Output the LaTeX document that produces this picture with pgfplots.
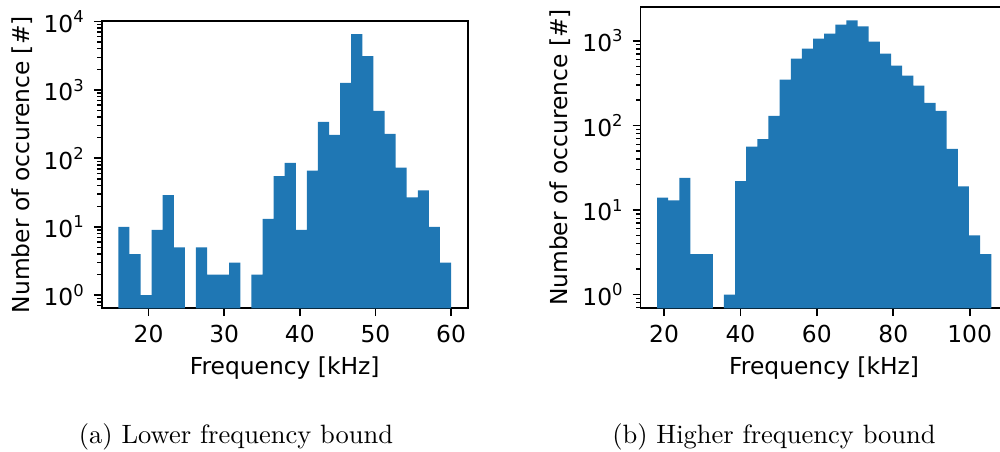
\documentclass[border=0pt]{standalone}
\usepackage{fontspec}
\usepackage{pgfplots}
\pgfplotsset{compat=1.18}
\usetikzlibrary{calc}
\newfontfamily\dv{DejaVu Sans}
\definecolor{mplblue}{HTML}{1F77B4}
\pgfplotsset{
  myhistax/.style={
    scale only axis, anchor=south west,
    log basis y=10, log origin=infty,
    axis line style={line width=0.72pt, black},
    every tick/.style={black, line width=0.72pt},
    minor tick style={line width=0.54pt},
    tick align=outside, major tick length=3.15pt, minor tick length=1.8pt,
    tick pos=left,
    yticklabel={\pgfmathparse{int(round(\tick))}10\textsuperscript{\pgfmathresult}},
    tick label style={font=\dv\fontsize{9.35}{11.2}\selectfont},
    label style={font=\dv\fontsize{9.35}{11.2}\selectfont},
    /pgf/number format/assume math mode=true,
    xlabel={Frequency [kHz]}, ylabel={Number of occurence [\#]},
    xlabel style={at={(rel axis cs:0.5,0)}, anchor=center, yshift=-23.9pt},
    ylabel style={at={($(rel axis cs:0,0.5)+(-32pt,0pt)$)}, anchor=center},
  },
}
\begin{document}
\begin{tikzpicture}
\begin{axis}[ymode=log, myhistax, at={(40.68pt,57.48pt)}, width=146.4pt, height=114.9pt,
  xmin=13.8, xmax=62.2, ymin=0.644, ymax=10160, xtick={20,30,40,50,60}]
\addplot[ybar, bar shift=0pt, fill=mplblue, draw=none, bar width=1.46667] coordinates {
(16.733,10) (18.2,4) (19.667,1) (21.133,9) (22.6,29) (24.067,5)
(27.0,5) (28.467,2) (29.933,2) (31.4,3)
(34.333,2) (35.8,13) (37.267,55) (38.733,86) (40.2,9) (41.667,66)
(43.133,341) (44.6,220) (46.067,1264) (47.533,6550) (49.0,3128) (50.467,493)
(51.933,228) (53.4,73) (54.867,27) (56.333,34) (57.8,10) (59.267,3)
};
\end{axis}
\begin{axis}[ymode=log, myhistax, at={(256.2pt,57.48pt)}, width=146.9pt, height=120.6pt,
  xmin=13.83, xmax=109.97, ymin=0.689, ymax=2530, xtick={20,40,60,80,100}]
\addplot[ybar, bar shift=0pt, fill=mplblue, draw=none, bar width=2.916] coordinates {
(19.628,14) (22.544,13) (25.46,24) (28.376,3) (31.292,3)
(37.124,1) (40.04,22) (42.956,56) (45.872,69) (48.788,130) (51.704,347)
(54.62,617) (57.536,810) (60.452,1065) (63.368,1222) (66.284,1561) (69.2,1742)
(72.116,1479) (75.032,981) (77.948,707) (80.864,509) (83.78,387) (86.696,295)
(89.612,185) (92.528,149) (95.444,53) (98.36,19) (101.276,5) (104.192,3)
};
\end{axis}
\node[anchor=base, font=\fontsize{10.6}{12.7}\selectfont] at (94.4pt,3.5pt) {(a) Lower frequency bound};
\node[anchor=base, font=\fontsize{10.6}{12.7}\selectfont] at (309.6pt,3.5pt) {(b) Higher frequency bound};
\pgfresetboundingbox
\useasboundingbox (0,0) rectangle (400pt,180.8pt);
\end{tikzpicture}
\end{document}
